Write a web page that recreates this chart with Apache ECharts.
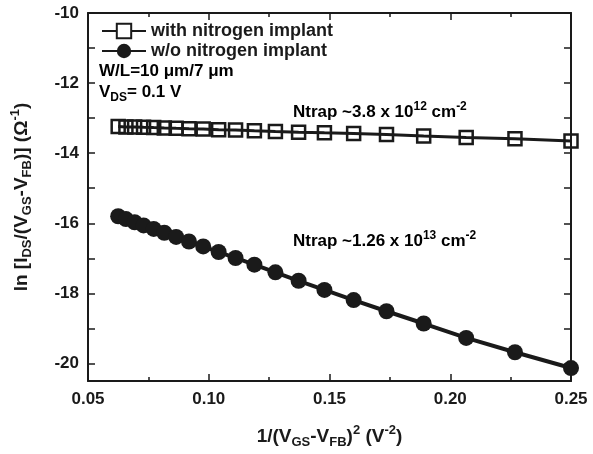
<!DOCTYPE html>
<html>
<head>
<meta charset="utf-8">
<script src="https://cdn.jsdelivr.net/npm/echarts@6/dist/echarts.min.js"></script>
<style>
  html, body { margin: 0; padding: 0; background: #fff; }
  #chart { width: 593px; height: 454px; }
</style>
</head>
<body>
<div id="chart"></div>
<script>
// x = 1/(VGS-VFB)^2, one point per measured gate voltage
var xValues = [0.0625, 0.0657, 0.0693, 0.0730, 0.0772, 0.0816, 0.0865, 0.0918, 0.0977, 0.1041,
               0.1111, 0.1189, 0.1276, 0.1372, 0.1479, 0.1600, 0.1736, 0.1890, 0.2066, 0.2268, 0.2500];
var withNitrogen = [-13.24, -13.25, -13.25, -13.26, -13.27, -13.28, -13.29, -13.30, -13.31, -13.33,
                    -13.34, -13.36, -13.38, -13.40, -13.42, -13.44, -13.47, -13.51, -13.55, -13.59, -13.65];
var withoutNitrogen = [-15.80, -15.88, -15.97, -16.06, -16.16, -16.27, -16.39, -16.52, -16.66, -16.82,
                       -16.99, -17.18, -17.40, -17.64, -17.90, -18.19, -18.51, -18.86, -19.27, -19.68, -20.13];
var yTickValues = [-20, -19, -18, -17, -16, -15, -14, -13, -12, -11, -10];
var yLabelValues = [-20, -18, -16, -14, -12, -10];

var FONT = '"Liberation Sans", Arial, sans-serif';
var INK = '#1a1a1a';

function pairs(ys) {
    return xValues.map(function (x, i) { return [x, ys[i]]; });
}

// rich text styles: body text, subscript, superscript
function richSet(size, small, shift) {
    return {
        n: { fontSize: size, fontWeight: 'bold', fontFamily: FONT, color: INK },
        sub: { fontSize: small, fontWeight: 'bold', fontFamily: FONT, color: INK, padding: [shift, 0, 0, 0] },
        sup: { fontSize: small, fontWeight: 'bold', fontFamily: FONT, color: INK, padding: [0, 0, shift, 0] }
    };
}
var richTitle = richSet(19, 13, 12);
var richNote = richSet(17, 12, 11);

var chart = echarts.init(document.getElementById('chart'));

var option = {
    animation: false,
    backgroundColor: '#fff',
    grid: { left: 88, right: 22, top: 13, bottom: 72 },
    legend: {
        orient: 'vertical',
        left: 96,
        top: 17,
        itemWidth: 44,
        itemHeight: 18,
        itemGap: 2,
        textStyle: { fontSize: 18, fontWeight: 'bold', fontFamily: FONT, color: INK },
        data: [
            { name: 'with nitrogen implant', itemStyle: { color: '#fff', borderColor: INK, borderWidth: 2 } },
            { name: 'w/o nitrogen implant' }
        ]
    },
    xAxis: [{
        type: 'value',
        min: 0.05,
        max: 0.25,
        interval: 0.05,
        name: '{n|1/(V}{sub|GS}{n|-V}{sub|FB}{n|)}{sup|2}{n| (V}{sup|-2}{n|)}',
        nameLocation: 'middle',
        nameGap: 43,
        nameTextStyle: { rich: richTitle },
        axisLine: { lineStyle: { color: INK, width: 2 } },
        axisTick: { inside: true, length: 7, lineStyle: { color: INK, width: 1.5 } },
        minorTick: { show: true, splitNumber: 2, length: 4, lineStyle: { color: INK, width: 1.5 } },
        axisLabel: {
            margin: 10,
            fontSize: 17, fontWeight: 'bold', fontFamily: FONT, color: INK,
            formatter: function (v) { return v.toFixed(2); }
        },
        splitLine: { show: false }
    }, {
        type: 'value',
        position: 'top',
        min: 0.05,
        max: 0.25,
        interval: 0.05,
        axisLine: { lineStyle: { color: INK, width: 2 } },
        axisTick: { inside: true, length: 7, lineStyle: { color: INK, width: 1.5 } },
        minorTick: { show: true, splitNumber: 2, length: 4, lineStyle: { color: INK, width: 1.5 } },
        axisLabel: { show: false },
        splitLine: { show: false }
    }],
    yAxis: [{
        type: 'value',
        min: -20.5,
        max: -10,
        name: '{n|ln [I}{sub|DS}{n|/(V}{sub|GS}{n|-V}{sub|FB}{n|)] (Ω}{sup|-1}{n|)}',
        nameLocation: 'middle',
        nameRotate: 90,
        nameGap: 54,
        nameTextStyle: { rich: richTitle },
        axisLine: { lineStyle: { color: INK, width: 2 } },
        axisTick: { inside: true, length: 7, customValues: yTickValues, lineStyle: { color: INK, width: 1.5 } },
        axisLabel: {
            margin: 9,
            customValues: yLabelValues,
            fontSize: 17, fontWeight: 'bold', fontFamily: FONT, color: INK
        },
        splitLine: { show: false }
    }, {
        type: 'value',
        position: 'right',
        min: -20.5,
        max: -10,
        axisLine: { lineStyle: { color: INK, width: 2 } },
        axisTick: { inside: true, length: 7, customValues: yTickValues, lineStyle: { color: INK, width: 1.5 } },
        axisLabel: { show: false },
        splitLine: { show: false }
    }],
    graphic: [{
        type: 'text', left: 99, top: 63,
        style: { text: '{n|W/L=10 μm/7 μm}', rich: richNote }
    }, {
        type: 'text', left: 99, top: 84,
        style: { text: '{n|V}{sub|DS}{n|= 0.1 V}', rich: richNote }
    }, {
        type: 'text', left: 293, top: 101,
        style: { text: '{n|Ntrap ~3.8 x 10}{sup|12}{n| cm}{sup|-2}', rich: richNote }
    }, {
        type: 'text', left: 293, top: 230,
        style: { text: '{n|Ntrap ~1.26 x 10}{sup|13}{n| cm}{sup|-2}', rich: richNote }
    }],
    series: [{
        name: 'with nitrogen implant',
        type: 'line',
        data: pairs(withNitrogen),
        symbol: 'rect',
        symbolSize: 13,
        lineStyle: { color: INK, width: 3 },
        itemStyle: { color: 'rgba(255,255,255,0)', borderColor: INK, borderWidth: 2.5 },
        z: 3
    }, {
        name: 'w/o nitrogen implant',
        type: 'line',
        data: pairs(withoutNitrogen),
        symbol: 'circle',
        symbolSize: 16,
        lineStyle: { color: INK, width: 4 },
        itemStyle: { color: INK, borderColor: INK, borderWidth: 0 },
        z: 4
    }]
};

chart.setOption(option);
</script>
</body>
</html>
